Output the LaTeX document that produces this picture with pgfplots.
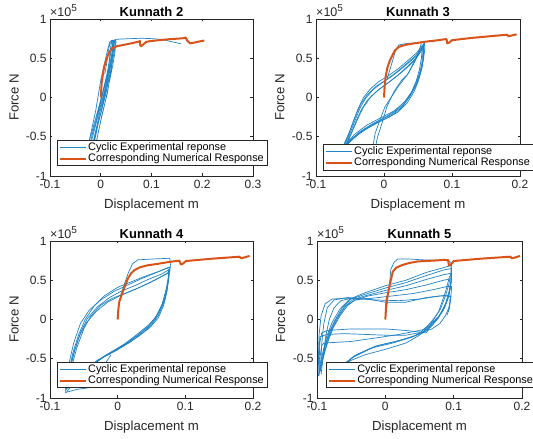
\documentclass[border=0pt]{standalone}
\usepackage{fontspec}
\setmainfont{Liberation Sans}
\usepackage{pgfplots}
\pgfplotsset{compat=1.18}
\definecolor{mblue}{rgb}{0,0.447,0.741}
\definecolor{morange}{rgb}{0.851,0.325,0.098}
\definecolor{axgray}{rgb}{0.15,0.15,0.15}
\pgfplotsset{
 kun/.style={
  scale only axis, height=157pt, ymin=-1, ymax=1,
  ytick={-1,-0.5,0,0.5,1}, yticklabels={-1,-0.5,0,0.5,1},
  tick align=inside, major tick length=2.5pt,
  axis line style={draw=axgray, line width=0.5pt},
  tick style={draw=axgray, line width=0.5pt},
  tick label style={font=\fontsize{12}{12}\selectfont, text=axgray},
  xticklabel style={yshift=-1pt},
  every axis title shift=0pt,
  title style={font=\bfseries\fontsize{13}{13}\selectfont, at={(0.5,1)}, anchor=base, yshift=2.5pt},
  xlabel={Displacement m}, ylabel={Force N},
  label style={font=\fontsize{13.2}{13.2}\selectfont, text=axgray},
  xlabel style={at={(axis description cs:0.5,-0.185)}, anchor=center},
  ylabel style={at={(axis description cs:-0.177,0.5)}, anchor=center},
  legend style={anchor=south west, draw=axgray, line width=0.5pt, fill=white,
    font=\fontsize{10.9}{12}\selectfont, inner xsep=2pt, inner ysep=1.5pt,
    nodes={inner sep=1pt, text=black}, cells={anchor=west}, row sep=0pt},
  legend image code/.code={\draw[#1] (0pt,0pt) -- (26pt,0pt);},
  after end axis/.code={\node[anchor=base west, yshift=2.5pt, inner sep=0pt, font=\fontsize{12.5}{12.5}\selectfont, text=axgray] at (rel axis cs:0,1) {×10\raisebox{4.5pt}{\fontsize{10}{10}\selectfont 5}};},
 },
 expL/.style={mblue!88!white, line width=0.7pt, no markers, line join=round},
 exp/.style={mblue!88!white, line width=0.7pt, no markers, forget plot, line join=round},
 num/.style={morange, line width=2pt, no markers, line join=round},
}
\begin{document}
\begin{tikzpicture}
\useasboundingbox (0,0) rectangle (533pt,439pt);
% ---------------- Kunnath 2 ----------------
\begin{axis}[kun, at={(50pt,263pt)}, anchor=south west, width=203pt,
  xmin=-0.1, xmax=0.3, xtick={-0.1,0,0.1,0.2,0.3}, xticklabels={-0.1,0,0.1,0.2,0.3},
  title={Kunnath 2}, legend style={at={(0.034,0.064)}}]
\addplot[expL] coordinates {(-0.032,-0.85) (-0.025,-0.6) (-0.015,-0.38) (-0.005,-0.15) (0.005,0.1) (0.013,0.32) (0.018,0.5) (0.021,0.62) (0.024,0.7) (0.026,0.72) (0.027,0.71) (0.025,0.6) (0.02,0.45) (0.012,0.25) (0.003,0.02) (-0.007,-0.25) (-0.017,-0.48) (-0.025,-0.7) (-0.03,-0.85)};
\addlegendentry{Cyclic Experimental reponse}
\addplot[exp] coordinates {(-0.03,-0.85) (-0.021,-0.5) (-0.01,-0.17) (0,0.22) (0.008,0.45) (0.014,0.62) (0.018,0.71) (0.022,0.73) (0.025,0.72) (0.026,0.66) (0.022,0.48) (0.015,0.28) (0.007,0.05) (-0.004,-0.25) (-0.014,-0.55) (-0.022,-0.85)};
\addplot[exp] coordinates {(-0.015,-0.85) (-0.0066,-0.5) (0.003,-0.2) (0.013,0.05) (0.02,0.35) (0.024,0.55) (0.026,0.68) (0.027,0.72) (0.029,0.73) (0.03,0.7) (0.028,0.58) (0.024,0.42) (0.017,0.2) (0.009,-0.05) (0.0,-0.3) (-0.01,-0.6) (-0.016,-0.85)};
\addplot[exp] coordinates {(-0.028,-0.85) (-0.02,-0.6) (-0.01,-0.35) (0.0,-0.1) (0.008,0.1) (0.015,0.32) (0.02,0.5) (0.024,0.62) (0.026,0.7) (0.028,0.73) (0.03,0.72) (0.027,0.6) (0.022,0.42) (0.015,0.2) (0.008,0.0) (-0.002,-0.25) (-0.012,-0.5) (-0.022,-0.75) (-0.026,-0.85)};
\addplot[exp] coordinates {(-0.022,-0.85) (-0.015,-0.6) (-0.008,-0.4) (0,-0.2) (0.006,0.0) (0.012,0.2) (0.016,0.4) (0.018,0.55) (0.02,0.66) (0.022,0.72) (0.024,0.73) (0.022,0.55) (0.018,0.35) (0.012,0.12) (0.004,-0.1) (-0.004,-0.3) (-0.012,-0.55) (-0.02,-0.85)};
\addplot[exp] coordinates {(0.008,0.3) (0.012,0.45) (0.015,0.6) (0.018,0.68) (0.022,0.72) (0.03,0.74) (0.04,0.745) (0.06,0.75) (0.08,0.755) (0.1,0.75) (0.12,0.74) (0.14,0.71) (0.158,0.685)};
\addplot[num] coordinates {(0,0) (0.002,0.2) (0.0066,0.39) (0.013,0.52) (0.018,0.59) (0.023,0.63) (0.033,0.655) (0.045,0.67) (0.06,0.69) (0.074,0.71) (0.077,0.72) (0.078,0.66) (0.08,0.655) (0.09,0.71) (0.1,0.72) (0.13,0.74) (0.163,0.755) (0.167,0.765) (0.171,0.72) (0.176,0.69) (0.185,0.7) (0.195,0.715) (0.204,0.725)};
\addlegendentry{Corresponding Numerical Response}
\end{axis}
% ---------------- Kunnath 3 ----------------
\begin{axis}[kun, at={(316pt,263pt)}, anchor=south west, width=204pt,
  xmin=-0.1, xmax=0.2, xtick={-0.1,0,0.1,0.2}, xticklabels={-0.1,0,0.1,0.2},
  title={Kunnath 3}, legend style={at={(0.034,0.038)}}]
\addplot[expL] coordinates {(-0.066,-0.72) (-0.06,-0.62) (-0.053,-0.5) (-0.045,-0.3) (-0.038,-0.14) (-0.03,0.0) (-0.02,0.11) (-0.008,0.2) (0.005,0.27) (0.02,0.36) (0.035,0.47) (0.048,0.57) (0.058,0.68) (0.059,0.6) (0.057,0.45) (0.053,0.3) (0.046,0.14) (0.037,0.0) (0.026,-0.13) (0.01,-0.24) (-0.01,-0.32) (-0.03,-0.42) (-0.045,-0.52) (-0.058,-0.63) (-0.067,-0.74)};
\addlegendentry{Cyclic Experimental reponse}
\addplot[exp] coordinates {(-0.064,-0.7) (-0.058,-0.6) (-0.051,-0.48) (-0.043,-0.3) (-0.035,-0.13) (-0.027,-0.01) (-0.016,0.1) (-0.004,0.18) (0.01,0.26) (0.025,0.36) (0.04,0.47) (0.052,0.56) (0.057,0.64) (0.057,0.55) (0.055,0.4) (0.05,0.25) (0.042,0.09) (0.032,-0.04) (0.018,-0.16) (0.002,-0.25) (-0.018,-0.34) (-0.036,-0.44) (-0.05,-0.55) (-0.062,-0.68)};
\addplot[exp] coordinates {(-0.062,-0.7) (-0.055,-0.58) (-0.049,-0.47) (-0.041,-0.3) (-0.033,-0.15) (-0.024,-0.03) (-0.012,0.07) (0.0,0.15) (0.014,0.24) (0.03,0.35) (0.045,0.47) (0.055,0.6) (0.058,0.66) (0.058,0.55) (0.056,0.38) (0.051,0.22) (0.044,0.07) (0.034,-0.07) (0.02,-0.19) (0.0,-0.28) (-0.02,-0.37) (-0.038,-0.47) (-0.052,-0.58) (-0.063,-0.7)};
\addplot[exp] coordinates {(-0.06,-0.7) (-0.053,-0.56) (-0.046,-0.42) (-0.038,-0.26) (-0.03,-0.12) (-0.02,0.0) (-0.008,0.1) (0.005,0.18) (0.02,0.28) (0.035,0.4) (0.048,0.51) (0.056,0.62) (0.055,0.5) (0.052,0.35) (0.047,0.2) (0.04,0.06) (0.03,-0.06) (0.015,-0.17) (-0.005,-0.26) (-0.025,-0.35) (-0.042,-0.46) (-0.055,-0.58) (-0.065,-0.72)};
\addplot[exp] coordinates {(-0.065,-0.72) (-0.058,-0.58) (-0.05,-0.42) (-0.042,-0.24) (-0.034,-0.08) (-0.025,0.03) (-0.012,0.14) (0.002,0.22) (0.018,0.32) (0.033,0.43) (0.046,0.53) (0.055,0.62) (0.06,0.7) (0.06,0.62) (0.058,0.48) (0.054,0.33) (0.048,0.17) (0.039,0.03) (0.028,-0.1) (0.012,-0.21) (-0.008,-0.3) (-0.028,-0.4) (-0.044,-0.5) (-0.057,-0.6) (-0.066,-0.72)};
\addplot[exp] coordinates {(0.055,0.69) (0.05,0.56) (0.036,0.31) (0.021,0.14) (0.011,0.01) (0.0015,-0.117) (-0.006,-0.287) (-0.013,-0.456) (-0.016,-0.6)};
\addplot[exp] coordinates {(0.056,0.66) (0.045,0.45) (0.035,0.3) (0.026,0.22) (0.015,0.08) (0.009,-0.03) (0.004,-0.12) (0.0015,-0.2) (-0.006,-0.41) (-0.01,-0.52) (-0.014,-0.7)};
\addplot[exp] coordinates {(0.005,0.25) (0.012,0.45) (0.017,0.6) (0.022,0.67) (0.035,0.69) (0.058,0.7) (0.06,0.66)};
\addplot[num] coordinates {(0,0) (0.001,0.15) (0.0025,0.27) (0.005,0.38) (0.009,0.48) (0.016,0.6) (0.022,0.645) (0.031,0.67) (0.045,0.69) (0.06,0.71) (0.08,0.73) (0.092,0.745) (0.093,0.69) (0.096,0.7) (0.1,0.73) (0.13,0.76) (0.168,0.79) (0.181,0.8) (0.183,0.78) (0.188,0.79) (0.195,0.805)};
\addlegendentry{Corresponding Numerical Response}
\end{axis}
% ---------------- Kunnath 4 ----------------
\begin{axis}[kun, at={(50pt,41pt)}, anchor=south west, width=203pt,
  xmin=-0.1, xmax=0.2, xtick={-0.1,0,0.1,0.2}, xticklabels={-0.1,0,0.1,0.2},
  title={Kunnath 4}, legend style={at={(0.034,0.064)}}]
\addplot[expL] coordinates {(-0.076,-0.9) (-0.072,-0.65) (-0.066,-0.42) (-0.058,-0.2) (-0.048,0.0) (-0.035,0.17) (-0.02,0.3) (0,0.41) (0.02,0.48) (0.04,0.55) (0.06,0.61) (0.074,0.66) (0.076,0.6) (0.074,0.45) (0.069,0.23) (0.06,0.05) (0.05,-0.07) (0.039,-0.155) (0.02,-0.28) (-0.005,-0.41) (-0.03,-0.52) (-0.055,-0.7) (-0.072,-0.88)};
\addlegendentry{Cyclic Experimental reponse}
\addplot[exp] coordinates {(-0.074,-0.88) (-0.07,-0.62) (-0.063,-0.38) (-0.055,-0.17) (-0.045,0.01) (-0.03,0.16) (-0.012,0.28) (0.005,0.36) (0.025,0.43) (0.045,0.51) (0.065,0.58) (0.075,0.63) (0.075,0.55) (0.072,0.4) (0.066,0.2) (0.056,0.03) (0.045,-0.09) (0.03,-0.2) (0.01,-0.32) (-0.015,-0.44) (-0.04,-0.58) (-0.06,-0.75) (-0.073,-0.87)};
\addplot[exp] coordinates {(-0.072,-0.85) (-0.068,-0.6) (-0.06,-0.35) (-0.05,-0.12) (-0.04,0.04) (-0.025,0.18) (-0.008,0.27) (0.01,0.33) (0.03,0.4) (0.05,0.48) (0.068,0.56) (0.076,0.6) (0.075,0.5) (0.071,0.33) (0.064,0.15) (0.055,0.0) (0.043,-0.11) (0.025,-0.23) (0.005,-0.35) (-0.02,-0.47) (-0.045,-0.62) (-0.065,-0.8) (-0.075,-0.92)};
\addplot[exp] coordinates {(-0.077,-0.9) (-0.073,-0.6) (-0.065,-0.3) (-0.055,-0.05) (-0.042,0.12) (-0.025,0.25) (-0.005,0.36) (0.015,0.44) (0.035,0.52) (0.055,0.59) (0.072,0.65) (0.077,0.67) (0.076,0.55) (0.073,0.38) (0.067,0.2) (0.058,0.05) (0.047,-0.06) (0.03,-0.18) (0.012,-0.3) (-0.012,-0.43) (-0.035,-0.56)};
\addplot[exp] coordinates {(-0.075,-0.88) (-0.071,-0.62) (-0.064,-0.4) (-0.056,-0.2) (-0.046,-0.04) (-0.032,0.1) (-0.015,0.22) (0.005,0.31) (0.025,0.38) (0.045,0.46) (0.063,0.54) (0.075,0.6) (0.075,0.52) (0.073,0.36) (0.068,0.18) (0.06,0.02) (0.048,-0.1) (0.03,-0.22) (0.008,-0.34) (-0.018,-0.46) (-0.04,-0.6)};
\addplot[exp] coordinates {(-0.01,-0.45) (-0.025,-0.65) (-0.03,-0.8) (-0.035,-0.86) (-0.06,-0.89) (-0.077,-0.93) (-0.076,-0.85) (-0.072,-0.6)};
\addplot[exp] coordinates {(0.004,0.3) (0.01,0.45) (0.016,0.6) (0.022,0.71) (0.03,0.76) (0.05,0.77) (0.077,0.78) (0.078,0.7) (0.077,0.6)};
\addplot[num] coordinates {(0,0) (0.001,0.13) (0.0025,0.23) (0.0074,0.35) (0.015,0.52) (0.02,0.59) (0.025,0.63) (0.033,0.665) (0.044,0.69) (0.06,0.71) (0.074,0.73) (0.091,0.75) (0.0935,0.70) (0.096,0.71) (0.101,0.745) (0.14,0.775) (0.18,0.80) (0.182,0.78) (0.187,0.79) (0.195,0.81)};
\addlegendentry{Corresponding Numerical Response}
\end{axis}
% ---------------- Kunnath 5 ----------------
\begin{axis}[kun, at={(317pt,41pt)}, anchor=south west, width=205pt,
  xmin=-0.1, xmax=0.2, xtick={-0.1,0,0.1,0.2}, xticklabels={-0.1,0,0.1,0.2},
  title={Kunnath 5}, legend style={at={(0.044,0.064)}}]
\addplot[expL] coordinates {(-0.098,-0.72) (-0.095,-0.55) (-0.092,-0.44) (-0.086,-0.22) (-0.078,-0.04) (-0.066,0.14) (-0.052,0.26) (-0.03,0.34) (0,0.43) (0.03,0.5) (0.06,0.6) (0.085,0.66) (0.097,0.69) (0.097,0.55) (0.095,0.4) (0.091,0.25) (0.085,0.12) (0.076,0.0) (0.066,-0.1) (0.055,-0.17) (0.035,-0.235) (0.011,-0.3) (-0.019,-0.36) (-0.048,-0.485) (-0.062,-0.6)};
\addlegendentry{Cyclic Experimental reponse}
\addplot[exp] coordinates {(-0.097,-0.7) (-0.093,-0.5) (-0.089,-0.35) (-0.083,-0.18) (-0.075,-0.03) (-0.063,0.15) (-0.05,0.26) (-0.03,0.32) (0,0.4) (0.03,0.47) (0.06,0.56) (0.085,0.63) (0.097,0.65) (0.096,0.5) (0.093,0.35) (0.088,0.2) (0.08,0.06) (0.07,-0.05) (0.058,-0.14) (0.04,-0.22) (0.015,-0.28) (-0.015,-0.34) (-0.045,-0.46) (-0.065,-0.6)};
\addplot[exp] coordinates {(-0.096,-0.68) (-0.091,-0.47) (-0.087,-0.3) (-0.08,-0.14) (-0.071,0.02) (-0.06,0.16) (-0.048,0.25) (-0.03,0.3) (0,0.37) (0.03,0.43) (0.06,0.51) (0.085,0.57) (0.097,0.59) (0.096,0.45) (0.093,0.3) (0.087,0.16) (0.078,0.03) (0.067,-0.07) (0.06,-0.17) (0.03,-0.14) (0,-0.12) (-0.05,-0.12) (-0.085,-0.14) (-0.093,-0.17) (-0.096,-0.3) (-0.097,-0.6)};
\addplot[exp] coordinates {(-0.095,-0.65) (-0.09,-0.45) (-0.085,-0.28) (-0.078,-0.12) (-0.069,0.03) (-0.058,0.17) (-0.046,0.24) (-0.025,0.3) (0,0.34) (0.03,0.38) (0.06,0.44) (0.085,0.5) (0.097,0.52) (0.095,0.4) (0.092,0.28) (0.086,0.15) (0.078,0.04) (0.066,-0.06) (0.055,-0.13) (0.02,-0.19) (-0.01,-0.23) (-0.05,-0.28) (-0.09,-0.3) (-0.093,-0.33) (-0.096,-0.5) (-0.096,-0.65)};
\addplot[exp] coordinates {(-0.094,-0.6) (-0.089,-0.42) (-0.083,-0.26) (-0.076,-0.1) (-0.066,0.05) (-0.055,0.18) (-0.044,0.25) (-0.02,0.27) (0.01,0.3) (0.04,0.33) (0.07,0.38) (0.09,0.42) (0.097,0.42) (0.096,0.3) (0.093,0.15) (0.088,0.05) (0.08,-0.05) (0.068,-0.12) (0.055,-0.16) (0.03,-0.2) (0,-0.2) (-0.03,-0.19) (-0.06,-0.18) (-0.085,-0.19) (-0.096,-0.22) (-0.097,-0.45)};
\addplot[exp] coordinates {(0.09,0.05) (0.094,0.15) (0.095,0.29) (0.09,0.31) (0.06,0.28) (0.03,0.22) (0,0.22) (-0.03,0.27) (-0.06,0.27) (-0.078,0.26) (-0.088,0.2) (-0.094,0.05) (-0.097,-0.2) (-0.098,-0.5) (-0.097,-0.72)};
\addplot[exp] coordinates {(0.092,0.1) (0.095,0.22) (0.096,0.3) (0.08,0.3) (0.05,0.26) (0.02,0.24) (-0.02,0.25) (-0.055,0.28) (-0.075,0.25) (-0.085,0.15) (-0.09,-0.05) (-0.093,-0.3) (-0.095,-0.65)};
\addplot[exp] coordinates {(-0.05,0.27) (-0.065,0.24) (-0.075,0.15) (-0.082,0.0) (-0.087,-0.2) (-0.09,-0.4) (-0.094,-0.7)};
\addplot[exp] coordinates {(-0.07,-0.62) (-0.05,-0.52) (-0.03,-0.45) (0,-0.38) (0.03,-0.3) (0.05,-0.2) (0.065,-0.08) (0.078,0.1) (0.088,0.35) (0.094,0.55)};
\addplot[exp] coordinates {(0.0,0.0) (0.002,0.15) (0.004,0.3) (0.006,0.435) (0.008,0.64) (0.013,0.73) (0.018,0.77) (0.035,0.77) (0.055,0.76) (0.089,0.75) (0.096,0.73) (0.096,0.6) (0.093,0.45) (0.088,0.3) (0.08,0.12) (0.07,0.0) (0.058,-0.12) (0.045,-0.2) (0.02,-0.27) (-0.01,-0.33) (-0.04,-0.44) (-0.06,-0.56)};
\addplot[num] coordinates {(0,0) (0.0008,0.12) (0.0015,0.23) (0.0064,0.44) (0.011,0.61) (0.016,0.66) (0.0235,0.69) (0.035,0.72) (0.048,0.74) (0.07,0.75) (0.087,0.76) (0.092,0.755) (0.093,0.69) (0.096,0.7) (0.1,0.745) (0.14,0.775) (0.183,0.80) (0.185,0.78) (0.19,0.79) (0.197,0.81)};
\addlegendentry{Corresponding Numerical Response}
\end{axis}
\end{tikzpicture}
\end{document}
